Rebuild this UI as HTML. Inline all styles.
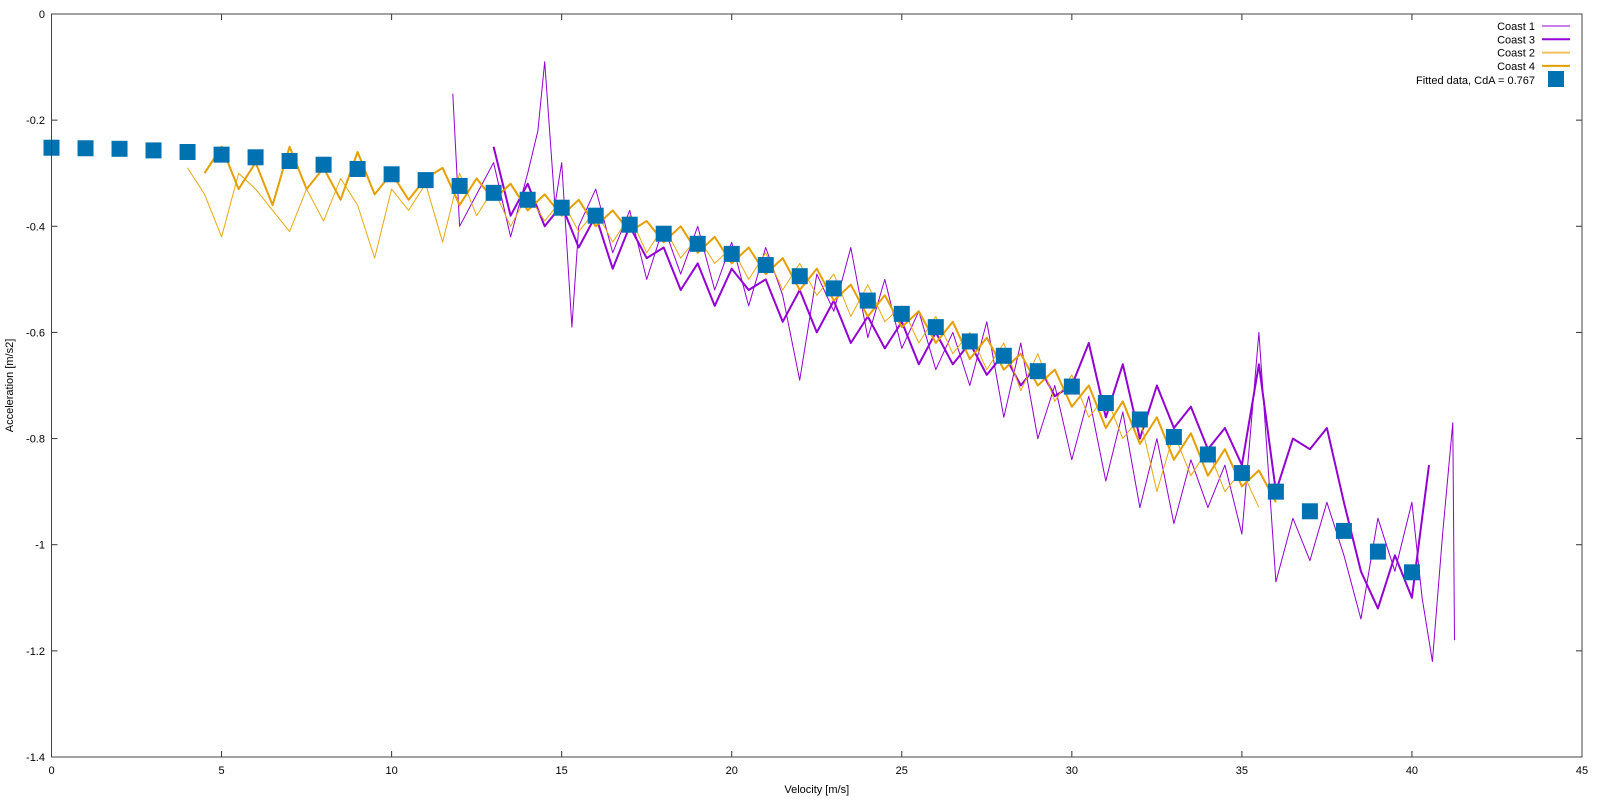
<!DOCTYPE html>
<html><head><meta charset="utf-8"><style>
html,body{margin:0;padding:0;background:#fff;}
svg{display:block;font-family:"Liberation Sans",sans-serif;}
</style></head><body>
<svg id="chart" width="1600" height="800" viewBox="0 0 1600 800" xmlns="http://www.w3.org/2000/svg"></svg>
<script>
const xTicks=[0,5,10,15,20,25,30,35,40,45];
const yTicks=[0,-0.2,-0.4,-0.6,-0.8,-1,-1.2,-1.4];
const yTickLabels=["0","-0.2","-0.4","-0.6","-0.8","-1","-1.2","-1.4"];
const fitV=[0,1,2,3,4,5,6,7,8,9,10,11,12,13,14,15,16,17,18,19,20,21,22,23,24,25,26,27,28,29,30,31,32,33,34,35,36,37,38,39,40];
const fitA=[-0.252,-0.253,-0.254,-0.257,-0.26,-0.265,-0.27,-0.277,-0.284,-0.292,-0.302,-0.313,-0.324,-0.337,-0.35,-0.365,-0.38,-0.397,-0.414,-0.433,-0.452,-0.473,-0.494,-0.517,-0.54,-0.565,-0.59,-0.617,-0.644,-0.673,-0.702,-0.733,-0.764,-0.797,-0.83,-0.865,-0.9,-0.937,-0.974,-1.013,-1.052];
const c2V=[4,4.5,5,5.5,6,6.5,7,7.5,8,8.5,9,9.5,10,10.5,11,11.5,12,12.5,13,13.5,14,14.5,15,15.5,16,16.5,17,17.5,18,18.5,19,19.5,20,20.5,21,21.5,22,22.5,23,23.5,24,24.5,25,25.5,26,26.5,27,27.5,28,28.5,29,29.5,30,30.5,31,31.5,32,32.5,33,33.5,34,34.5,35,35.5];
const c2A=[-0.29,-0.34,-0.42,-0.3,-0.33,-0.37,-0.41,-0.33,-0.39,-0.31,-0.36,-0.46,-0.33,-0.37,-0.32,-0.43,-0.30,-0.38,-0.33,-0.40,-0.34,-0.39,-0.35,-0.41,-0.37,-0.43,-0.38,-0.45,-0.40,-0.46,-0.42,-0.47,-0.44,-0.50,-0.45,-0.52,-0.47,-0.53,-0.49,-0.57,-0.51,-0.58,-0.55,-0.62,-0.57,-0.64,-0.60,-0.67,-0.62,-0.71,-0.64,-0.73,-0.68,-0.76,-0.72,-0.80,-0.76,-0.90,-0.79,-0.87,-0.82,-0.90,-0.86,-0.93];
const c4V=[4.5,5,5.5,6,6.5,7,7.5,8,8.5,9,9.5,10,10.5,11,11.5,12,12.5,13,13.5,14,14.5,15,15.5,16,16.5,17,17.5,18,18.5,19,19.5,20,20.5,21,21.5,22,22.5,23,23.5,24,24.5,25,25.5,26,26.5,27,27.5,28,28.5,29,29.5,30,30.5,31,31.5,32,32.5,33,33.5,34,34.5,35,35.5,36];
const c4A=[-0.30,-0.25,-0.33,-0.28,-0.36,-0.25,-0.33,-0.29,-0.35,-0.26,-0.34,-0.30,-0.35,-0.31,-0.29,-0.36,-0.31,-0.35,-0.32,-0.37,-0.34,-0.38,-0.35,-0.40,-0.37,-0.41,-0.39,-0.43,-0.40,-0.45,-0.42,-0.47,-0.44,-0.49,-0.46,-0.52,-0.48,-0.54,-0.51,-0.57,-0.53,-0.59,-0.56,-0.62,-0.58,-0.65,-0.61,-0.67,-0.64,-0.70,-0.67,-0.74,-0.70,-0.78,-0.73,-0.81,-0.76,-0.84,-0.79,-0.87,-0.82,-0.89,-0.86,-0.92];
const c1V=[11.8,12,12.5,13,13.5,14,14.3,14.5,14.8,15,15.3,15.5,16,16.5,17,17.5,18,18.5,19,19.5,20,20.5,21,21.5,22,22.5,23,23.5,24,24.5,25,25.5,26,26.5,27,27.5,28,28.5,29,29.5,30,30.5,31,31.5,32,32.5,33,33.5,34,34.5,35,35.5,36,36.5,37,37.5,38,38.5,39,39.5,40,40.3,40.6,40.9,41.2,41.25];
const c1A=[-0.15,-0.40,-0.34,-0.28,-0.42,-0.30,-0.22,-0.09,-0.36,-0.28,-0.59,-0.40,-0.33,-0.45,-0.37,-0.50,-0.40,-0.49,-0.40,-0.52,-0.43,-0.55,-0.44,-0.53,-0.69,-0.49,-0.56,-0.44,-0.61,-0.50,-0.63,-0.56,-0.67,-0.60,-0.70,-0.58,-0.76,-0.62,-0.80,-0.70,-0.84,-0.72,-0.88,-0.75,-0.93,-0.80,-0.96,-0.84,-0.93,-0.85,-0.98,-0.60,-1.07,-0.95,-1.03,-0.92,-1.02,-1.14,-0.95,-1.05,-0.92,-1.10,-1.22,-0.98,-0.77,-1.18];
const c3V=[13,13.5,14,14.5,15,15.5,16,16.5,17,17.5,18,18.5,19,19.5,20,20.5,21,21.5,22,22.5,23,23.5,24,24.5,25,25.5,26,26.5,27,27.5,28,28.5,29,29.5,30,30.5,31,31.5,32,32.5,33,33.5,34,34.5,35,35.5,36,36.5,37,37.5,38,38.5,39,39.5,40,40.3,40.5];
const c3A=[-0.25,-0.38,-0.32,-0.40,-0.36,-0.44,-0.38,-0.48,-0.40,-0.46,-0.44,-0.52,-0.47,-0.55,-0.48,-0.52,-0.50,-0.58,-0.52,-0.60,-0.54,-0.62,-0.57,-0.63,-0.58,-0.66,-0.60,-0.66,-0.62,-0.68,-0.64,-0.70,-0.66,-0.72,-0.70,-0.62,-0.76,-0.66,-0.80,-0.70,-0.78,-0.74,-0.82,-0.78,-0.85,-0.66,-0.90,-0.80,-0.82,-0.78,-0.92,-1.05,-1.12,-1.02,-1.10,-0.95,-0.85];

const NS="http://www.w3.org/2000/svg";
const svg=document.getElementById('chart');
const L=51.5,R=1582,T=14,B=757;
const xMin=0,xMax=45,yMin=-1.4,yMax=0;
function sx(v){return L+(v-xMin)/(xMax-xMin)*(R-L);}
function sy(v){return B-(v-yMin)/(yMax-yMin)*(B-T);}
function mk(tag,attrs){const e=document.createElementNS(NS,tag);for(const k in attrs)e.setAttribute(k,attrs[k]);svg.appendChild(e);return e;}

// ticks
xTicks.forEach((t,i)=>{
  const x=sx(t);
  const a=mk('line',{x1:x,y1:B,x2:x,y2:B-6,stroke:'#333','stroke-width':1});
  
  
  const b=mk('line',{x1:x,y1:T,x2:x,y2:T+6,stroke:'#333','stroke-width':1});
  
  
  const tx=mk('text',{x:x,y:774,'font-size':11,'text-anchor':'middle',fill:'#000'});
  tx.textContent=String(t);
  
  
});
yTicks.forEach((t,i)=>{
  const y=sy(t);
  const a=mk('line',{x1:L,y1:y,x2:L+6,y2:y,stroke:'#333','stroke-width':1});
  
  
  const b=mk('line',{x1:R,y1:y,x2:R-6,y2:y,stroke:'#333','stroke-width':1});
  
  
  const tx=mk('text',{x:45,y:y+4,'font-size':11,'text-anchor':'end',fill:'#000'});
  tx.textContent=yTickLabels[i];
  
  
});

function series(V,A,color,w,name){
  let d='';
  for(let i=0;i<V.length;i++){d+=(i?'L':'M')+sx(V[i]).toFixed(1)+' '+sy(A[i]).toFixed(1);}
  const p=mk('path',{d:d,fill:'none',stroke:color,'stroke-width':w,'stroke-linejoin':'round'});
  
  
}
series(c1V,c1A,'#9400d3',1,'coast-1-line');
series(c3V,c3A,'#9400d3',2,'coast-3-line');
series(c2V,c2A,'#e9a810',1,'coast-2-line');
series(c4V,c4A,'#e69f00',2,'coast-4-line');

for(let i=0;i<fitV.length;i++){
  const r=mk('rect',{x:sx(fitV[i])-8,y:sy(fitA[i])-8,width:16,height:16,fill:'#0072b2'});
  
  
}

// frame
const fr=mk('rect',{x:L,y:T,width:R-L,height:B-T,fill:'none',stroke:'#444','stroke-width':1});



// legend
const leg=[["Coast 1",'#9400d3',1],["Coast 3",'#9400d3',2],["Coast 2",'#f5c060',2],["Coast 4",'#e69f00',2]];
leg.forEach((e,i)=>{
  const y=26+i*13.3;
  const t=mk('text',{x:1535,y:y+4,'font-size':11,'text-anchor':'end',fill:'#000'});
  t.textContent=e[0];
  
  
  const l=mk('line',{x1:1542,y1:y,x2:1570,y2:y,stroke:e[1],'stroke-width':e[2]});
  
  
});
const ft=mk('text',{x:1535,y:84,'font-size':11,'text-anchor':'end',fill:'#000'});
ft.textContent='Fitted data, CdA = 0.767';


const fs=mk('rect',{x:1548,y:71,width:16,height:16,fill:'#0072b2'});



// axis titles
const xt=mk('text',{x:(L+R)/2,y:793,'font-size':11,'text-anchor':'middle',fill:'#000'});
xt.textContent='Velocity [m/s]';


const yt=mk('text',{x:0,y:0,'font-size':11,'text-anchor':'middle',fill:'#000',transform:'translate(13,'+((T+B)/2)+') rotate(-90)'});
yt.textContent='Acceleration [m/s2]';


</script>
</body></html>
